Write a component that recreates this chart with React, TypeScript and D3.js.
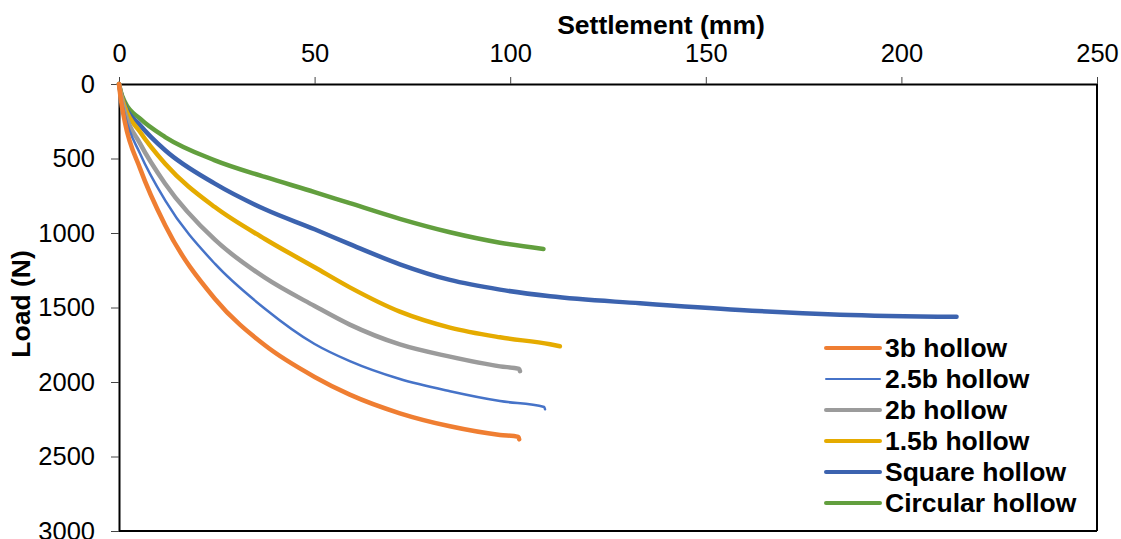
import React, { useEffect, useRef } from 'react';
import * as d3 from 'd3';

// settlement (mm) / load (N)
const xTicks = [0, 50, 100, 150, 200, 250];
const yTicks = [0, 500, 1000, 1500, 2000, 2500, 3000];

const seriesNames = ['3b hollow', '2.5b hollow', '2b hollow', '1.5b hollow', 'Square hollow', 'Circular hollow'];
const seriesColors = ['#EF7E32', '#4673C8', '#9B9B9B', '#E5AB00', '#3C63AF', '#629F3E'];
const seriesWidths = [4.5, 2.5, 4.5, 4.5, 4.5, 4.5];

const hollow3b = [[0, 0], [0.4, 90], [1.5, 255], [5.4, 568], [11.8, 948], [24.5, 1441], [37.3, 1754], [50, 1966], [59, 2085], [71.8, 2210], [84.6, 2297], [97.4, 2355], [102.1, 2368], [102.3, 2385]];
const hollow25b = [[0, 0], [0.4, 75], [1.5, 210], [5.4, 468], [11.8, 781], [24.5, 1206], [37.3, 1508], [50, 1745], [59, 1860], [71.8, 1980], [84.6, 2062], [97.4, 2128], [108.7, 2168], [108.9, 2183]];
const hollow2b = [[0, 0], [0.4, 65], [1.5, 188], [5.4, 400], [11.8, 669], [24.5, 1045], [37.3, 1300], [50, 1490], [59, 1615], [71.8, 1748], [84.6, 1830], [97.4, 1895], [102.3, 1912], [102.5, 1927]];
const hollow15b = [[0, 0], [0.4, 55], [1.5, 154], [5.4, 322], [11.8, 535], [24.5, 826], [37.3, 1040], [50, 1230], [59, 1365], [71.8, 1528], [84.6, 1635], [97.4, 1700], [110.2, 1747], [112.7, 1760]];
const squareHollow = [[0, 0], [0.4, 50], [1.5, 143], [5.4, 277], [11.8, 445], [24.5, 669], [37.3, 841], [50, 975], [59, 1075], [71.8, 1210], [84.6, 1315], [97.4, 1380], [110.2, 1425], [133.2, 1472], [158.7, 1517], [184.3, 1548], [214.1, 1562]];
const circularHollow = [[0, 0], [0.4, 45], [1.5, 121], [5.4, 233], [11.8, 356], [24.5, 512], [37.3, 624], [50, 725], [59, 800], [71.8, 905], [84.6, 995], [97.4, 1065], [108.5, 1107]];

const seriesData = [hollow3b, hollow25b, hollow2b, hollow15b, squareHollow, circularHollow];

const App = () => {
    const ref = useRef<SVGSVGElement>(null);

    useEffect(() => {
        const svg = d3.select(ref.current);
        svg.selectAll('*').remove();

        const x = d3.scaleLinear().domain([0, 250]).range([119, 1097]);
        const y = d3.scaleLinear().domain([0, 3000]).range([84, 531]);
        const font = '"Liberation Sans", Arial, sans-serif';

        // right and bottom frame
        svg.append('line').attr('x1', x(250)).attr('x2', x(250)).attr('y1', y(0)).attr('y2', y(3000))
            .attr('stroke', '#000').attr('stroke-width', 2);
        svg.append('line').attr('x1', x(0)).attr('x2', x(250)).attr('y1', y(3000)).attr('y2', y(3000))
            .attr('stroke', '#000').attr('stroke-width', 2);

        // X axis (top)
        const gx = svg.append('g').attr('transform', `translate(0,${y(0)})`)
            .call(d3.axisTop(x).tickValues(xTicks).tickFormat(d3.format('d')).tickSize(7).tickSizeOuter(0).tickPadding(15));
        gx.select('.domain').attr('stroke-width', 2);
        gx.selectAll('.tick line').attr('stroke', '#444');
        gx.selectAll('text').attr('font-family', font).attr('font-size', 25.5).attr('fill', '#000');

        // Y axis (left)
        const gy = svg.append('g').attr('transform', `translate(${x(0)},0)`)
            .call(d3.axisLeft(y).tickValues(yTicks).tickFormat(d3.format('d')).tickSize(8).tickSizeOuter(0).tickPadding(16));
        gy.select('.domain').attr('stroke-width', 2);
        gy.selectAll('.tick line').attr('stroke', '#444');
        gy.selectAll('text').attr('font-family', font).attr('font-size', 25.5).attr('fill', '#000');

        // axis titles
        svg.append('text').attr('x', 661).attr('y', 34).attr('text-anchor', 'middle')
            .attr('font-family', font).attr('font-size', 26.5).attr('font-weight', 'bold')
            .text('Settlement (mm)');
        svg.append('text').attr('transform', 'translate(30,304) rotate(-90)').attr('text-anchor', 'middle')
            .attr('font-family', font).attr('font-size', 26.5).attr('font-weight', 'bold')
            .text('Load (N)');

        // curves
        const line = d3.line<number[]>()
            .x(d => x(d[0]))
            .y(d => y(d[1]))
            .curve(d3.curveMonotoneX);

        // draw in reverse so 3b ends on top
        seriesData.map((d, i) => i).reverse().forEach(i => {
            svg.append('path')
                .datum(seriesData[i])
                .attr('d', line)
                .attr('fill', 'none')
                .attr('stroke', seriesColors[i])
                .attr('stroke-width', seriesWidths[i])
                .attr('stroke-linecap', 'round')
                .attr('stroke-linejoin', 'round');
        });

        // legend
        const legend = svg.append('g').attr('transform', 'translate(826,348)');
        seriesNames.forEach((name, i) => {
            legend.append('line').attr('x1', 0).attr('x2', 54).attr('y1', i * 31).attr('y2', i * 31)
                .attr('stroke', seriesColors[i]).attr('stroke-width', seriesWidths[i] - 0.5)
                .attr('stroke-linecap', 'round');
            legend.append('text').attr('x', 59).attr('y', i * 31).attr('dy', '0.35em')
                .attr('font-family', font).attr('font-size', 26.5).attr('font-weight', 'bold')
                .text(name);
        });
    }, []);

    return (
        <svg ref={ref} width={1121} height={539}
            style={{ position: 'absolute', left: 0, top: 0, background: '#fff' }} />
    );
};

export default App;
